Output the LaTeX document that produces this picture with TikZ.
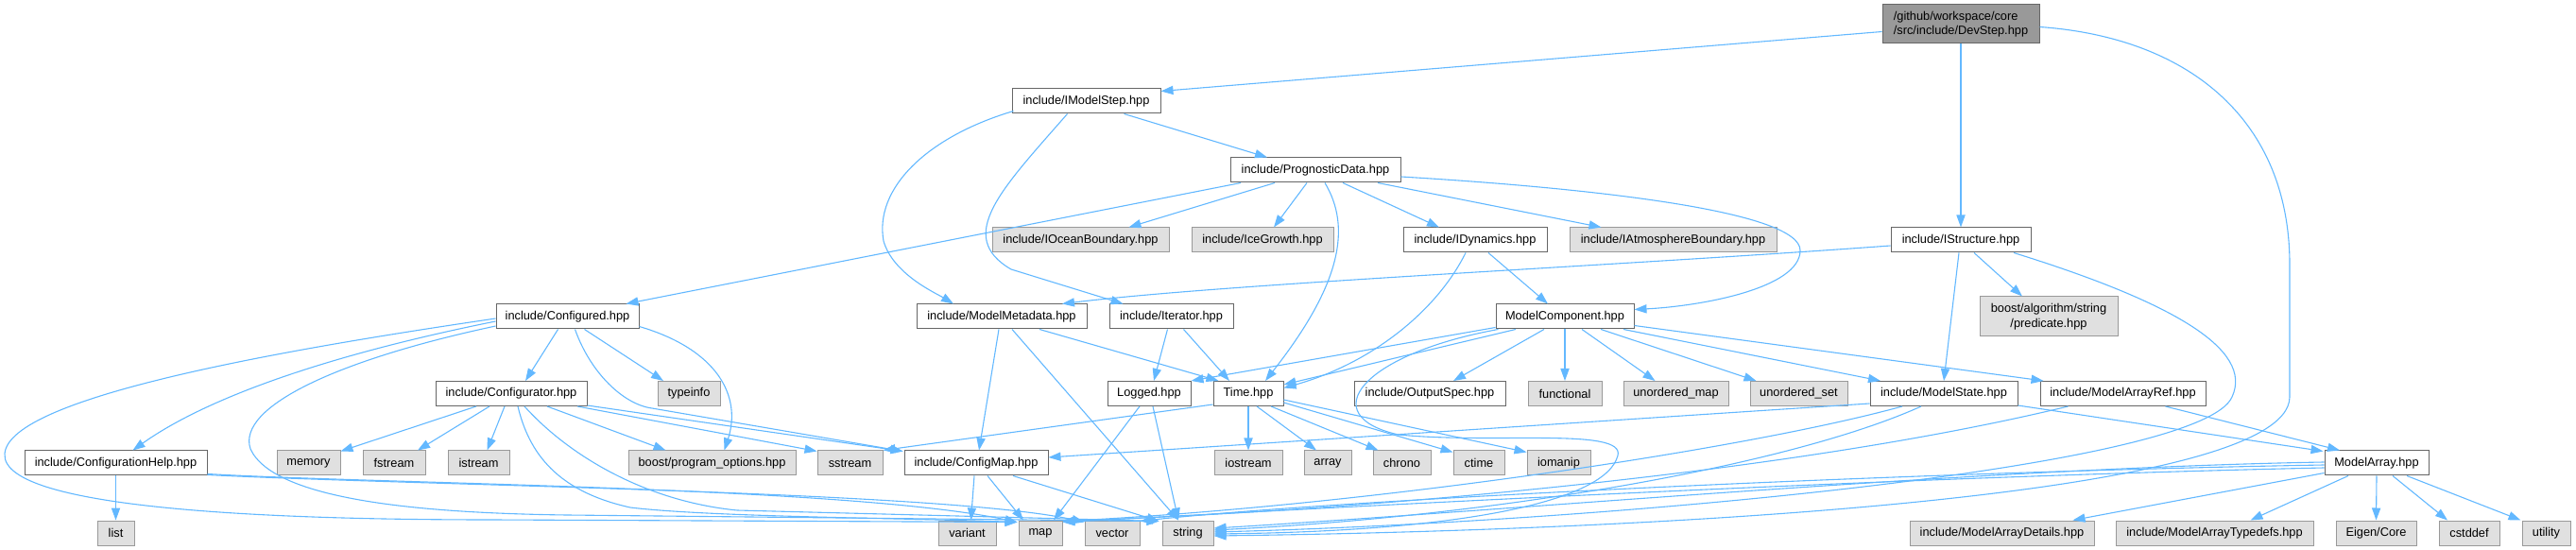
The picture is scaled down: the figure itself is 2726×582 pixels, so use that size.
\documentclass[tikz,border=0pt]{standalone}
\usepackage{fontspec}
\setmainfont{Liberation Sans}
\usetikzlibrary{arrows.meta}
\definecolor{edgec}{HTML}{63B8FF}
\definecolor{wbord}{HTML}{666666}
\definecolor{gbord}{HTML}{999999}
\definecolor{gfill}{HTML}{E0E0E0}
\definecolor{rfill}{HTML}{999999}
\tikzset{
  box/.style={rectangle, inner sep=0pt, line width=0.5pt, font=\fontsize{6.4pt}{7.7pt}\selectfont, text=black},
  wnode/.style={box, draw=wbord, fill=white},
  gnode/.style={box, draw=gbord, fill=gfill},
  rnode/.style={box, draw=wbord, fill=rfill, align=left},
  edge/.style={draw=edgec, line width=0.55pt, -{Triangle[length=6.5pt,width=4.6pt]}},
}
\newcommand\nd[6]{\node[#2, minimum width=#5, minimum height=13pt] (#1) at (#3,#4) {#6};}
\begin{document}
\begin{tikzpicture}[x=0.5pt,y=-0.5pt]
\useasboundingbox (0,0) rectangle (2726,582);
% nodes
\node[rnode, minimum width=83pt, minimum height=20.5pt] (DevStep) at (2075,25.5) {/github/workspace/core\\/src/include/DevStep.hpp};
\nd{IModelStep}{wnode}{1149.5}{107}{78.5pt}{include/IModelStep.hpp}
\nd{PrognosticData}{wnode}{1392}{180}{90pt}{include/PrognosticData.hpp}
\nd{IOceanBoundary}{gnode}{1143.5}{254}{93.5pt}{include/IOceanBoundary.hpp}
\nd{IceGrowth}{gnode}{1336}{254}{75pt}{include/IceGrowth.hpp}
\nd{IDynamics}{wnode}{1561}{254}{76pt}{include/IDynamics.hpp}
\nd{IAtmosphereBoundary}{gnode}{1770.5}{254}{109.5pt}{include/IAtmosphereBoundary.hpp}
\nd{IStructure}{wnode}{2075}{254}{74pt}{include/IStructure.hpp}
\node[gnode, align=center, minimum width=73pt, minimum height=21pt] (predicate) at (2168,335) {boost/algorithm/string\\/predicate.hpp};
\nd{Configured}{wnode}{600.5}{335}{75.5pt}{include/Configured.hpp}
\nd{ModelMetadata}{wnode}{1060}{335}{90pt}{include/ModelMetadata.hpp}
\nd{Iterator}{wnode}{1239.5}{335}{65.5pt}{include/Iterator.hpp}
\nd{ModelComponent}{wnode}{1656}{335}{73pt}{ModelComponent.hpp}
\nd{Configurator}{wnode}{541}{416.5}{80pt}{include/Configurator.hpp}
\nd{typeinfo}{gnode}{729}{416.5}{33pt}{typeinfo}
\nd{Logged}{wnode}{1216}{416.5}{44pt}{Logged.hpp}
\nd{Time}{wnode}{1321}{416.5}{37pt}{Time.hpp}
\nd{OutputSpec}{wnode}{1513}{416.5}{80pt}{include/OutputSpec.hpp}
\nd{functional}{gnode}{1656}{416.5}{39pt}{functional}
\nd{unorderedmap}{gnode}{1773.5}{416.5}{55.5pt}{unordered\_map}
\nd{unorderedset}{gnode}{1903.5}{416.5}{51.5pt}{unordered\_set}
\nd{ModelState}{wnode}{2057}{416.5}{78pt}{include/ModelState.hpp}
\nd{ModelArrayRef}{wnode}{2246.5}{416.5}{87.5pt}{include/ModelArrayRef.hpp}
\nd{ConfigurationHelp}{wnode}{122.5}{490}{96.5pt}{include/ConfigurationHelp.hpp}
\nd{memory}{gnode}{326.5}{490}{33.5pt}{memory}
\nd{fstream}{gnode}{417}{490}{33pt}{fstream}
\nd{istream}{gnode}{506.5}{490}{32.5pt}{istream}
\nd{boostpo}{gnode}{753.5}{490}{88.5pt}{boost/program\_options.hpp}
\nd{sstream}{gnode}{899.5}{490}{34.5pt}{sstream}
\nd{ConfigMap}{wnode}{1033}{490}{76pt}{include/ConfigMap.hpp}
\nd{iostream}{gnode}{1321}{490}{36pt}{iostream}
\nd{array}{gnode}{1405}{490}{25pt}{array}
\nd{chrono}{gnode}{1483.5}{490}{30.5pt}{chrono}
\nd{ctime}{gnode}{1565}{490}{27pt}{ctime}
\nd{iomanip}{gnode}{1649.5}{490}{33.5pt}{iomanip}
\nd{ModelArray}{wnode}{2515}{490}{55pt}{ModelArray.hpp}
\nd{list}{gnode}{122.5}{564}{19.5pt}{list}
\nd{variant}{gnode}{1023.5}{564}{30.5pt}{variant}
\nd{map}{gnode}{1101}{564}{23pt}{map}
\nd{vector}{gnode}{1177}{564}{29pt}{vector}
\nd{string}{gnode}{1257}{564}{27pt}{string}
\nd{MADetails}{gnode}{2118.5}{564}{97.5pt}{include/ModelArrayDetails.hpp}
\nd{MATypedefs}{gnode}{2343.5}{564}{104.5pt}{include/ModelArrayTypedefs.hpp}
\nd{EigenCore}{gnode}{2514.5}{564}{42.5pt}{Eigen/Core}
\nd{cstddef}{gnode}{2613}{564}{32pt}{cstddef}
\nd{utility}{gnode}{2694.5}{564}{25.5pt}{utility}
% edges: DevStep
\draw[edge] ([shift={(0,8)}]DevStep.west) -- ([shift={(0,3)}]IModelStep.north east);
\draw[edge] (DevStep.south) -- (IStructure.north);
\draw[edge] ([shift={(0,3)}]DevStep.east) .. controls (2320,40) and (2423,130) .. (2423,280) -- (2423,420) .. controls (2423,530) and (1700,562) .. ([shift={(0,3)}]string.east);
% IModelStep
\draw[edge] ([shift={(40,0)}]IModelStep.south) -- ([shift={(-51,0)}]PrognosticData.north);
\draw[edge] ([shift={(2,-3)}]IModelStep.south west) .. controls (980,145) and (925,200) .. (935,255) .. controls (945,290) and (990,310) .. ([shift={(-51,0)}]ModelMetadata.north);
\draw[edge] ([shift={(-20,0)}]IModelStep.south) .. controls (1060,200) and (1010,250) .. (1070,285) -- ([shift={(-51,0)}]Iterator.north);
% PrognosticData
\draw[edge] ([shift={(-79,0)}]PrognosticData.south) -- ([shift={(62,0)}]Configured.north);
\draw[edge] ([shift={(-43,0)}]PrognosticData.south) -- ([shift={(51,0)}]IOceanBoundary.north);
\draw[edge] ([shift={(-9,0)}]PrognosticData.south) -- ([shift={(12,0)}]IceGrowth.north);
\draw[edge] ([shift={(10,0)}]PrognosticData.south) .. controls (1430,240) and (1420,300) .. ([shift={(18,0)}]Time.north);
\draw[edge] ([shift={(29,0)}]PrognosticData.south) -- ([shift={(-38,0)}]IDynamics.north);
\draw[edge] ([shift={(66,0)}]PrognosticData.south) -- ([shift={(-76,0)}]IAtmosphereBoundary.north);
\draw[edge] ([shift={(0,7)}]PrognosticData.east) .. controls (1700,200) and (1905,225) .. (1905,265) .. controls (1905,305) and (1800,324) .. ([shift={(0,6)}]ModelComponent.north east);
% IDynamics
\draw[edge] ([shift={(-10,0)}]IDynamics.south) .. controls (1520,330) and (1450,385) .. ([shift={(0,-6)}]Time.east);
\draw[edge] ([shift={(14,0)}]IDynamics.south) -- ([shift={(-18,0)}]ModelComponent.north);
% IStructure
\draw[edge] ([shift={(0,6)}]IStructure.west) .. controls (1700,282) and (1300,300) .. ([shift={(64,0)}]ModelMetadata.north);
\draw[edge] ([shift={(14,0)}]IStructure.south) -- ([shift={(-28,0)}]predicate.north);
\draw[edge] ([shift={(-2,0)}]IStructure.south) -- (ModelState.north);
\draw[edge] ([shift={(56,0)}]IStructure.south) .. controls (2300,320) and (2385,370) .. (2362,420) .. controls (2330,495) and (1700,552) .. ([shift={(0,-1)}]string.east);
% Configured
\draw[edge] ([shift={(0,5)}]Configured.west) .. controls (350,375) and (220,420) .. ([shift={(18,0)}]ConfigurationHelp.north);
\draw[edge] ([shift={(0,2)}]Configured.west) .. controls (300,370) and (10,420) .. (5,480) .. controls (0,540) and (300,550) .. (520,550) -- ([shift={(-1,2)}]map.north west);
\draw[edge] ([shift={(0,10)}]Configured.west) .. controls (360,380) and (250,430) .. (265,475) .. controls (290,530) and (450,543) .. (600,545) -- ([shift={(-3,1)}]string.north west);
\draw[edge] ([shift={(-10,0)}]Configured.south) -- ([shift={(15,0)}]Configurator.north);
\draw[edge] ([shift={(18,0)}]Configured.south) -- ([shift={(-27,0)}]typeinfo.north);
\draw[edge] ([shift={(0,-3)}]Configured.south east) .. controls (760,370) and (785,420) .. ([shift={(13,0)}]boostpo.north);
\draw[edge] ([shift={(8,0)}]Configured.south) .. controls (625,395) and (660,428) .. (690,432) -- ([shift={(-1,1)}]ConfigMap.north west);
% Configurator
\draw[edge] ([shift={(-37,0)}]Configurator.south) -- ([shift={(0,1)}]memory.north east);
\draw[edge] ([shift={(-23,0)}]Configurator.south) -- ([shift={(25,0)}]fstream.north);
\draw[edge] ([shift={(-7,0)}]Configurator.south) -- ([shift={(9,0)}]istream.north);
\draw[edge] ([shift={(7,0)}]Configurator.south) .. controls (560,480) and (590,520) .. (667,537) .. controls (750,547) and (950,548) .. ([shift={(-1,2)}]map.north west);
\draw[edge] ([shift={(14,0)}]Configurator.south) .. controls (600,480) and (680,530) .. (780,540) -- ([shift={(-3,1)}]string.north west);
\draw[edge] ([shift={(38,0)}]Configurator.south) -- ([shift={(-49,0)}]boostpo.north);
\draw[edge] ([shift={(70,0)}]Configurator.south) -- ([shift={(0,1)}]sstream.north west);
\draw[edge] ([shift={(0,-1)}]Configurator.south east) -- ([shift={(-1,1)}]ConfigMap.north west);
% ConfigurationHelp
\draw[edge] (ConfigurationHelp.south) -- (list.north);
\draw[edge] ([shift={(0,-2)}]ConfigurationHelp.south east) .. controls (400,512) and (900,515) .. ([shift={(-1,2)}]map.north west);
\draw[edge] ([shift={(0,-1)}]ConfigurationHelp.south east) .. controls (450,514) and (1000,520) .. ([shift={(0,2)}]vector.north west);
% ModelMetadata
\draw[edge] ([shift={(40,0)}]ModelMetadata.south) -- ([shift={(6,0)}]Time.north west);
\draw[edge] ([shift={(-3,0)}]ModelMetadata.south) -- ([shift={(3,0)}]ConfigMap.north);
\draw[edge] ([shift={(11,0)}]ModelMetadata.south) -- ([shift={(-10,0)}]string.north);
% Iterator
\draw[edge] ([shift={(-4,0)}]Iterator.south) -- ([shift={(5,0)}]Logged.north);
\draw[edge] ([shift={(13,0)}]Iterator.south) -- ([shift={(-20,0)}]Time.north);
% Logged
\draw[edge] ([shift={(-10,0)}]Logged.south) -- ([shift={(14,0)}]map.north);
\draw[edge] ([shift={(4,0)}]Logged.south) -- ([shift={(-10,0)}]string.north);
% Time
\draw[edge] ([shift={(0,-2)}]Time.south west) -- (sstream.north east);
\draw[edge] (Time.south) -- (iostream.north);
\draw[edge] ([shift={(9,0)}]Time.south) -- ([shift={(-12,0)}]array.north);
\draw[edge] ([shift={(24,0)}]Time.south) -- ([shift={(-25,0)}]chrono.north);
\draw[edge] ([shift={(0,-4)}]Time.south east) -- ([shift={(0,2)}]ctime.north west);
\draw[edge] ([shift={(0,-7)}]Time.south east) -- ([shift={(0,2)}]iomanip.north west);
% ModelComponent
\draw[edge] ([shift={(0,-2)}]ModelComponent.south west) -- (Logged.north east);
\draw[edge] ([shift={(-52,0)}]ModelComponent.south) -- ([shift={(0,4)}]Time.north east);
\draw[edge] ([shift={(-22,0)}]ModelComponent.south) -- ([shift={(25,0)}]OutputSpec.north);
\draw[edge] (ModelComponent.south) -- (functional.north);
\draw[edge] ([shift={(18,0)}]ModelComponent.south) -- ([shift={(-22,0)}]unorderedmap.north);
\draw[edge] ([shift={(38,0)}]ModelComponent.south) -- ([shift={(-45,0)}]unorderedset.north);
\draw[edge] ([shift={(62,0)}]ModelComponent.south) -- ([shift={(-67,0)}]ModelState.north);
\draw[edge] ([shift={(0,-4)}]ModelComponent.south east) -- ([shift={(4,0)}]ModelArrayRef.north west);
\draw[edge] ([shift={(3,0)}]ModelComponent.south west) .. controls (1440,375) and (1390,440) .. (1480,460) .. controls (1580,470) and (1720,452) .. (1712,482) .. controls (1700,530) and (1550,562) .. ([shift={(0,1)}]string.east);
% ModelState
\draw[edge] ([shift={(0,-3)}]ModelState.south west) -- ([shift={(0,-6)}]ConfigMap.east);
\draw[edge] ([shift={(-44,0)}]ModelState.south) .. controls (1850,475) and (1450,535) .. ([shift={(0,1)}]map.north east);
\draw[edge] ([shift={(-24,0)}]ModelState.south) .. controls (1900,490) and (1600,545) .. ([shift={(0,-3)}]string.east);
\draw[edge] ([shift={(0,-1)}]ModelState.south east) -- ([shift={(-1,1)}]ModelArray.north west);
% ModelArrayRef
\draw[edge] ([shift={(45,0)}]ModelArrayRef.south) -- ([shift={(-39,0)}]ModelArray.north);
\draw[edge] ([shift={(-58,0)}]ModelArrayRef.south) .. controls (1900,500) and (1450,540) .. ([shift={(0,1)}]map.north east);
% ModelArray
\draw[edge] ([shift={(0,-1)}]ModelArray.west) .. controls (2100,495) and (1600,540) .. ([shift={(0,-5)}]string.east);
\draw[edge] ([shift={(0,2)}]ModelArray.west) .. controls (2000,500) and (1400,530) .. ([shift={(0,1)}]vector.north east);
\draw[edge] ([shift={(0,5)}]ModelArray.west) .. controls (2000,505) and (1450,535) .. ([shift={(0,2)}]map.north east);
\draw[edge] ([shift={(0,-3)}]ModelArray.south west) -- ([shift={(75,0)}]MADetails.north);
\draw[edge] ([shift={(-30,0)}]ModelArray.south) -- ([shift={(38,0)}]MATypedefs.north);
\draw[edge] (ModelArray.south) -- (EigenCore.north);
\draw[edge] ([shift={(17,0)}]ModelArray.south) -- ([shift={(-23,0)}]cstddef.north);
\draw[edge] ([shift={(32,0)}]ModelArray.south) -- ([shift={(-27,0)}]utility.north);
% ConfigMap
\draw[edge] ([shift={(-2,0)}]ConfigMap.south) -- ([shift={(4,0)}]variant.north);
\draw[edge] ([shift={(12,0)}]ConfigMap.south) -- ([shift={(-18,0)}]map.north);
\draw[edge] ([shift={(39,0)}]ConfigMap.south) -- ([shift={(-3,1)}]string.north west);
\end{tikzpicture}
\end{document}
